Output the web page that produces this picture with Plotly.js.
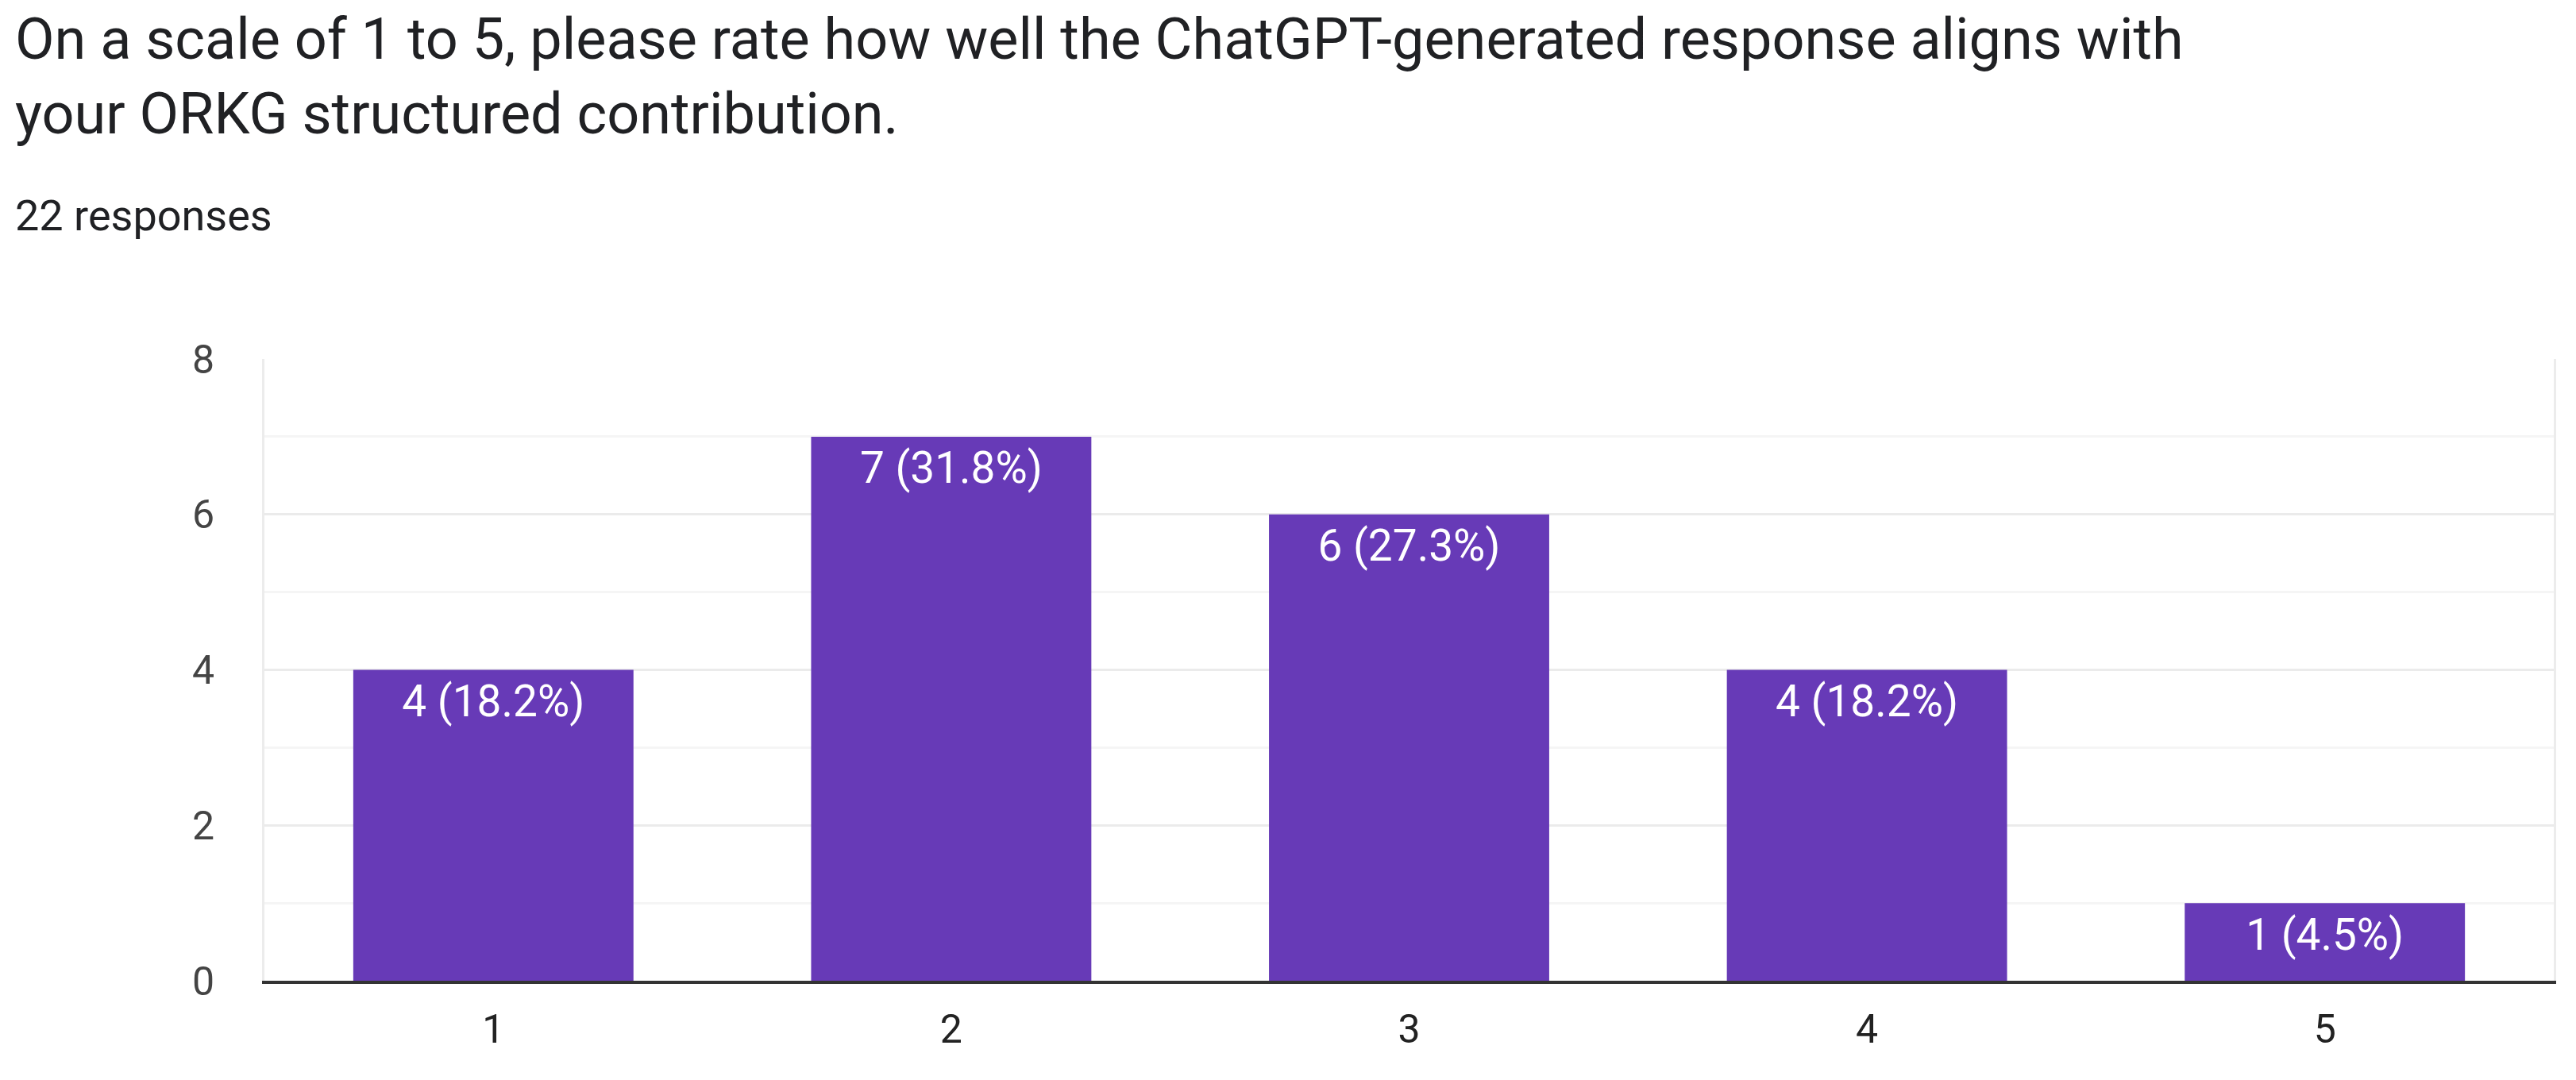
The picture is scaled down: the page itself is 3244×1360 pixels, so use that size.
<!DOCTYPE html>
<html>
<head>
<meta charset="utf-8">
<script src="https://cdn.plot.ly/plotly-3.0.1.min.js"></script>
<style>html,body{margin:0;padding:0;background:#fff;}#chart{width:3244px;height:1360px;}</style>
</head>
<body>
<div id="chart"></div>
<script>
const categories = ['1', '2', '3', '4', '5'];
const counts = [4, 7, 6, 4, 1];
const percents = ['18.2%', '31.8%', '27.3%', '18.2%', '4.5%'];
const yTicks = [0, 2, 4, 6, 8];
const titleText = 'On a scale of 1 to 5, please rate how well the ChatGPT-generated response aligns with<br>your ORKG structured contribution.';
const subtitleText = '22 responses';

const labels = counts.map((c, i) => c + ' (' + percents[i] + ')');

const W = 3244, H = 1360;
const M = {l: 333, r: 28, t: 452, b: 125};
const plotW = W - M.l - M.r, plotH = H - M.t - M.b;

const bars = {
  type: 'bar',
  x: categories,
  y: counts,
  marker: {color: '#673ab7', line: {width: 0}},
  hoverinfo: 'skip'
};

const barLabels = {
  type: 'scatter',
  mode: 'markers+text',
  x: categories,
  y: counts,
  text: labels,
  marker: {size: 26, opacity: 0},
  textposition: 'bottom center',
  textfont: {family: 'Roboto, sans-serif', size: 55, color: '#ffffff'},
  hoverinfo: 'skip',
  cliponaxis: false
};

const layout = {
  width: W, height: H,
  paper_bgcolor: '#ffffff', plot_bgcolor: '#ffffff',
  margin: {l: M.l, r: M.r, t: M.t, b: M.b, pad: 0},
  bargap: 0.388,
  showlegend: false,
  title: {
    text: titleText,
    xref: 'container', yref: 'container',
    x: 19 / W, xanchor: 'left',
    y: 1 - 74 / H, yanchor: 'top',
    font: {family: 'Roboto, sans-serif', size: 72, color: '#202124'}
  },
  xaxis: {
    type: 'category',
    showgrid: false,
    showline: true, linecolor: '#333333', linewidth: 4,
    ticks: '', ticklabelstandoff: 14,
    tickfont: {family: 'Roboto, sans-serif', size: 50, color: '#222222'},
    zeroline: false
  },
  yaxis: {
    range: [0, 8],
    tickvals: yTicks,
    showgrid: true, gridcolor: '#ebebeb', gridwidth: 3,
    minor: {dtick: 1, showgrid: true, gridcolor: '#f5f5f5', gridwidth: 3},
    showline: true, linecolor: '#ececec', linewidth: 3, mirror: true,
    ticks: '', ticklabelstandoff: 50,
    tickfont: {family: 'Roboto, sans-serif', size: 50, color: '#444444'},
    zeroline: false
  },
  annotations: [{
    text: subtitleText, xref: 'paper', yref: 'paper',
    x: (17 - M.l) / plotW, y: (H - M.b - 238) / plotH,
    xanchor: 'left', yanchor: 'top',
    showarrow: false, align: 'left',
    font: {family: 'Roboto, sans-serif', size: 54, color: '#202124'}
  }]
};

Plotly.newPlot('chart', [bars, barLabels], layout, {staticPlot: true, displayModeBar: false});
</script>
</body>
</html>
